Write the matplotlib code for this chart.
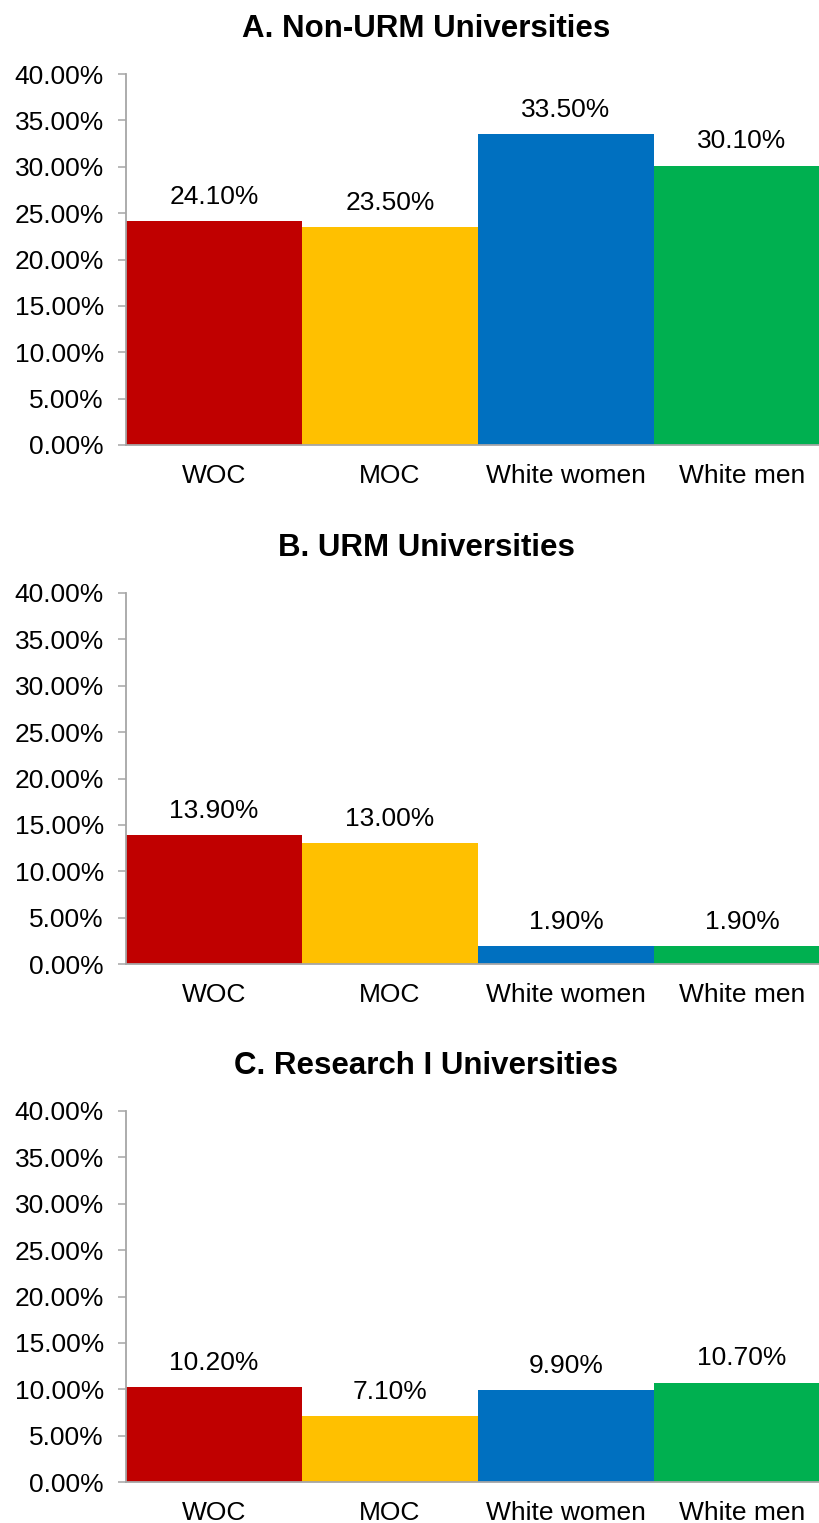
import matplotlib
matplotlib.use("Agg")
import matplotlib.pyplot as plt
from matplotlib.ticker import FuncFormatter, MultipleLocator

plt.rcParams['font.family'] = ['Liberation Sans', 'DejaVu Sans']

categories = ["WOC", "MOC", "White women", "White men"]
panel_titles = ["A. Non-URM Universities", "B. URM Universities", "C. Research I Universities"]
non_urm = [24.10, 23.50, 33.50, 30.10]
urm = [13.90, 13.00, 1.90, 1.90]
research_one = [10.20, 7.10, 9.90, 10.70]
panel_values = [non_urm, urm, research_one]
bar_colors = ["#C00000", "#FFC000", "#0070C0", "#00B050"]

W, H = 820, 1523
fig = plt.figure(figsize=(W / 100, H / 100), dpi=100)

axes_tops = [74, 593, 1111]
axes_height = 371
left_px, right_px = 126, 830
axis_gray = "#A6A6A6"

for title, values, top in zip(panel_titles, panel_values, axes_tops):
    ax = fig.add_axes([left_px / W, 1 - (top + axes_height) / H,
                       (right_px - left_px) / W, axes_height / H])
    x = range(len(categories))
    bars = ax.bar(x, values, width=1.0, color=bar_colors, linewidth=0)
    for b, v in zip(bars, values):
        ax.annotate(f"{v:.2f}%", (b.get_x() + b.get_width() / 2, v),
                    xytext=(0, 9), textcoords="offset points",
                    ha="center", va="bottom", fontsize=19, color="black")
    ax.set_xlim(-0.5, len(categories) - 0.5)
    ax.set_ylim(0, 40)
    ax.yaxis.set_major_locator(MultipleLocator(5))
    ax.yaxis.set_major_formatter(FuncFormatter(lambda y, _: f"{y:.2f}%"))
    ax.set_xticks(list(x))
    ax.set_xticklabels(categories)
    ax.tick_params(axis="x", length=0, pad=13.5, labelsize=19)
    ax.tick_params(axis="y", length=6, width=1.1, color=axis_gray,
                   direction="out", pad=10, labelsize=19)
    for side in ("top", "right"):
        ax.spines[side].set_visible(False)
    for side in ("left", "bottom"):
        ax.spines[side].set_color(axis_gray)
        ax.spines[side].set_linewidth(1.3)
    # panel heading, centred over the whole panel including tick labels
    fig.text(426 / W, 1 - (top - 37) / H, title, fontsize=22.5,
             fontweight="bold", ha="center", va="baseline")

fig.savefig("out.png", dpi=100, facecolor="white")
